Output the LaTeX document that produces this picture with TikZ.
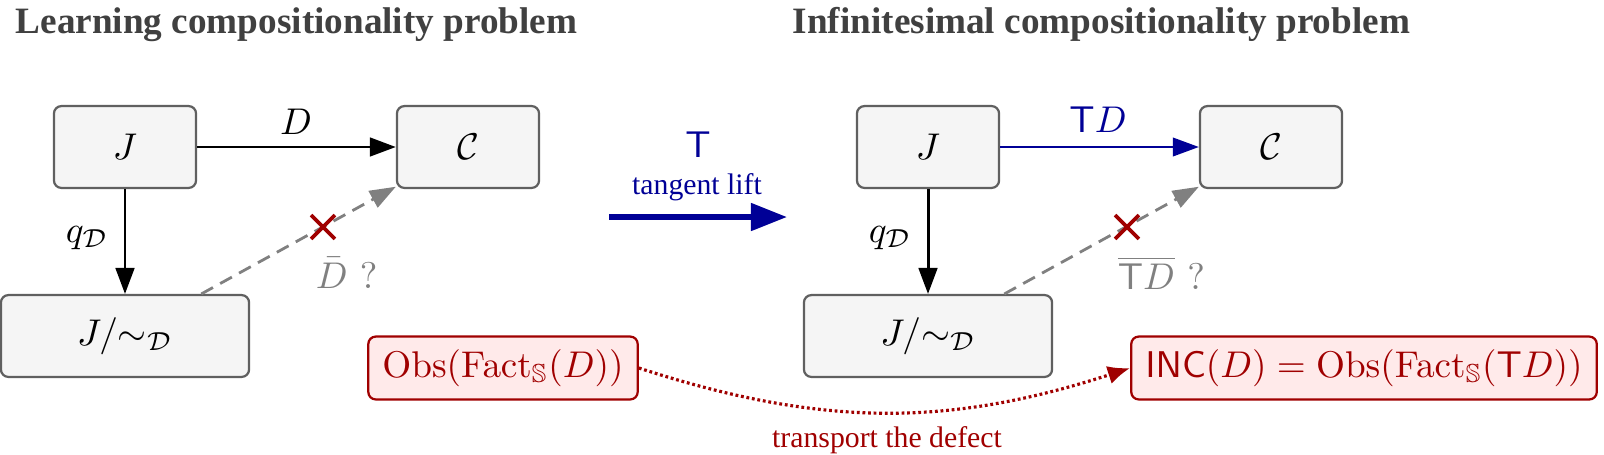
\documentclass[tikz,border=0pt]{standalone}
\usepackage{amsmath, amssymb}
\usepackage[no-math]{fontspec}
\newfontfamily\timesfont{Liberation Serif}
\usepackage{tikz}
\usetikzlibrary{arrows.meta, shapes.misc}

\definecolor{boxgray}{RGB}{245,245,245}
\definecolor{edgegray}{RGB}{96,96,96}
\definecolor{liftblue}{RGB}{0,0,150}
\definecolor{defectred}{RGB}{160,0,0}
\definecolor{defectfill}{RGB}{255,234,234}
\definecolor{titlegray}{RGB}{64,64,64}

\begin{document}
\begin{tikzpicture}[x=0.2688pt, y=-0.2688pt]
\tikzstyle{box}=[rectangle, draw=edgegray, fill=boxgray, rounded corners=2pt,
    line width=0.6pt, minimum width=38.2pt, minimum height=22pt]
\tikzstyle{obsbox}=[rectangle, draw=defectred, fill=defectfill, text=defectred,
    rounded corners=2pt, line width=0.6pt, inner xsep=3.8pt, minimum height=16.9pt]
\tikzstyle{arr}=[-{Triangle[length=7pt,width=5pt]}, line width=0.8pt]
\tikzstyle{maybe}=[-{Triangle[length=7pt,width=5pt]}, line width=0.75pt, gray,
    dash pattern=on 3.6pt off 2.2pt]
\tikzstyle{nogo}=[cross out, draw=defectred, line width=1pt, minimum size=5.4pt, inner sep=0pt]
\tikzstyle{heading}=[anchor=base west, inner sep=0pt, text=titlegray, font=\timesfont\bfseries]

\useasboundingbox (0,0) rectangle (1604,454);

% titles
\node[heading] (T1) at (15,33) {Learning compositionality problem};
\node[heading] (T2) at (792,33) {Infinitesimal compositionality problem};

% learning problem
\node[box] (J1) at (125,147) {$J$};
\node[box] (C1) at (468,147) {$\mathcal{C}$};
\node[box, minimum width=66.7pt] (Q1) at (125,336) {$J/{\sim_{\mathcal{D}}}$};

\draw[arr] (J1)--(C1);
\node (D1) at (296,122) {$D$};
\draw[arr] (J1)--(Q1);
\node (q1) at (87,238) {$q_{\mathcal{D}}$};
\draw[maybe] (Q1)--(C1);
\node[nogo] (X1) at (323,227) {};
\node[anchor=west, inner sep=0pt, text=gray] (B1) at (315,273) {$\bar{D}\ ?$};

% tangent lift
\node[text=liftblue] (T) at (698,145) {$\mathsf{T}$};
\node[text=liftblue, font=\timesfont\footnotesize] (tl) at (697,187) {tangent lift};
\coordinate (L0) at (609,217);
\coordinate (L1) at (787,217);
\draw[liftblue, line width=1.5pt, -{Triangle[length=9.7pt,width=7.2pt]}] (L0)--(L1);

% infinitesimal problem
\node[box] (J2) at (928,147) {$J$};
\node[box] (C2) at (1271,147) {$\mathcal{C}$};
\node[box, minimum width=66.7pt] (Q2) at (928,336) {$J/{\sim_{\mathcal{D}}}$};

\draw[arr, liftblue, line width=0.55pt] (J2)--(C2);
\node[text=liftblue] (D2) at (1098,120) {$\mathsf{T}D$};
\draw[arr] (J2)--(Q2);
\node (q2) at (890,238) {$q_{\mathcal{D}}$};
\draw[maybe] (Q2)--(C2);
\node[nogo] (X2) at (1127,227) {};
\node[anchor=west, inner sep=0pt, text=gray] (B2) at (1117,273) {$\overline{\mathsf{T}D}\ ?$};

% defect
\node[obsbox] (O) at (503,368) {$\mathrm{Obs}(\mathrm{Fact}_{\mathbb{S}}(D))$};
\node[obsbox] (I) at (1364,368) {$\mathsf{INC}(D)=\mathrm{Obs}(\mathrm{Fact}_{\mathbb{S}}(\mathsf{T}D))$};
\draw[defectred, line width=0.85pt, dash pattern=on 0.75pt off 0.75pt,
    -{Latex[length=6pt,width=5pt]}] (O.east) to[out=-18,in=198] (I.west);
\node[text=defectred, font=\timesfont\footnotesize] (tr) at (887,440) {transport the defect};
\end{tikzpicture}
\end{document}
